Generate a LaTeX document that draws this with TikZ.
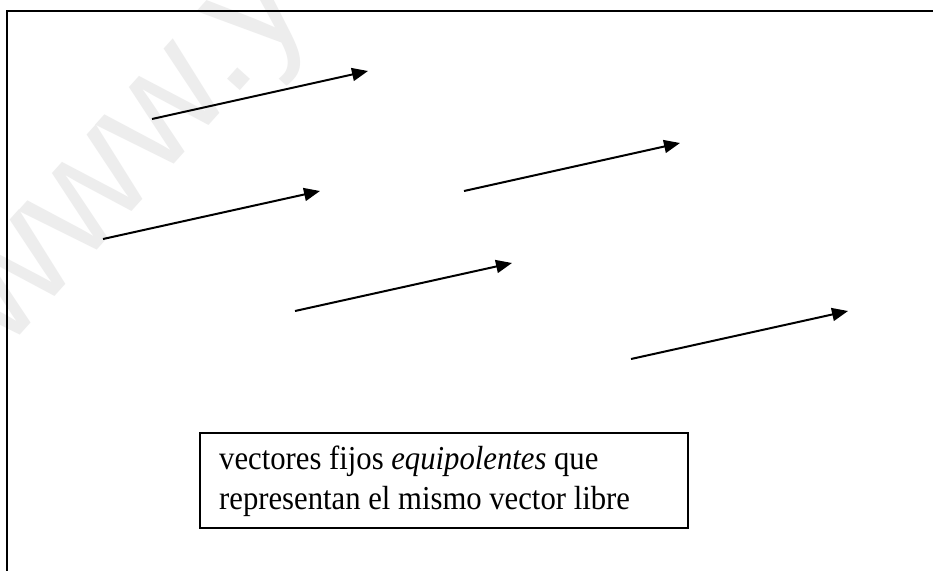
\documentclass[tikz,border=0pt]{standalone}
\usepackage{fontspec}
\setmainfont{Liberation Serif}
\newfontfamily\wmfont{Liberation Sans}
\usetikzlibrary{arrows.meta}
\tikzset{
  x=1pt, y=-1pt,
  vec/.style={line width=2pt, -{Triangle[length=16pt,width=13pt]}},
  frameline/.style={line width=2pt},
  labelbox/.style={draw, line width=1.6pt, minimum width=488pt, minimum height=95pt, inner sep=0pt},
  labeltext/.style={inner sep=0pt, align=left, xscale=0.99, yscale=1.08,
    font=\fontsize{31pt}{33pt}\selectfont},
  watermark/.style={text=black!7, font=\wmfont\fontsize{160pt}{160pt}\selectfont, rotate=48, inner sep=0pt}
}
\begin{document}
\begin{tikzpicture}
\useasboundingbox (0,0) rectangle (933,570);
\fill[white] (-10,-10) rectangle (945,580);
\node[watermark, anchor=base west] (wm) at (4,353) {www.yo};
\draw[frameline] (945,10.5) -- (6.5,10.5) -- (6.5,580);
% vectors
\coordinate (a1) at (152,119); \coordinate (b1) at (368,71);
\coordinate (a2) at (103,239); \coordinate (b2) at (320,191);
\coordinate (a3) at (464,191); \coordinate (b3) at (680,143);
\coordinate (a4) at (295,311); \coordinate (b4) at (512,263);
\coordinate (a5) at (631,359); \coordinate (b5) at (848,311);
\draw[vec] (a1) -- (b1);
\draw[vec] (a2) -- (b2);
\draw[vec] (a3) -- (b3);
\draw[vec] (a4) -- (b4);
\draw[vec] (a5) -- (b5);
\node[labelbox, anchor=north west] (box) at (199,432) {};
\node[labeltext, anchor=north west] (lbl) at (219,446) {vectores fijos \textit{equipolentes} que\\[4pt]representan el mismo vector libre};
\end{tikzpicture}
\end{document}
